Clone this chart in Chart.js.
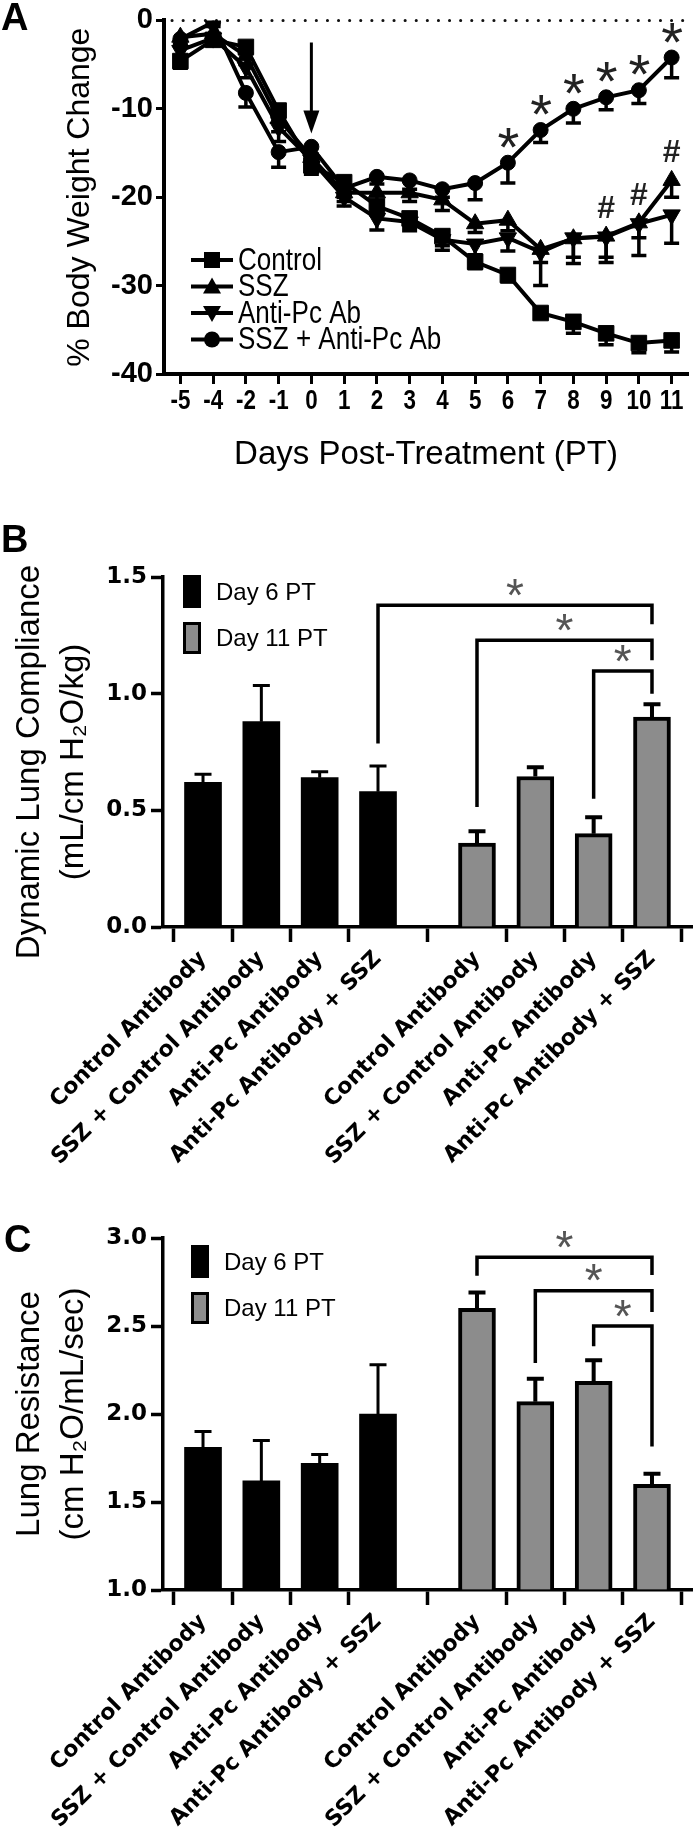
<!DOCTYPE html>
<html>
<head>
<meta charset="utf-8">
<script src="https://cdn.jsdelivr.net/npm/chart.js@4.4.0/dist/chart.umd.min.js"></script>
<style>
  body { margin: 0; background: #fff; }
  #wrap { position: relative; width: 700px; height: 1837px; overflow: hidden; background: #fff; }
  canvas { position: absolute; left: 0; }
</style>
</head>
<body>
<div id="wrap">
  <canvas id="cA" width="700" height="480" style="top:0px"></canvas>
  <canvas id="cB" width="700" height="700" style="top:470px"></canvas>
  <canvas id="cC" width="700" height="667" style="top:1170px"></canvas>
</div>
<script>
// ---- panel A: % body weight change ----
var days = ['-5','-4','-2','-1','0','1','2','3','4','5','6','7','8','9','10','11'];
var control    = [-4.6,-2.2,-3.0,-10.2,-16.4,-18.3,-21.0,-22.4,-24.4,-27.3,-28.8,-33.1,-34.1,-35.4,-36.5,-36.2];
var controlErr = [0.8,0.6,0.8,1.0,1.0,1.2,1.0,1.0,1.1,0.8,0.8,0.6,1.3,1.3,1.1,1.3];
var ssz        = [-1.9,-1.5,-4.0,-11.1,-15.5,-19.5,-19.5,-19.5,-20.3,-23.0,-22.6,-25.9,-24.7,-24.4,-22.9,-18.1];
var sszErr     = [0.8,0.6,1.0,1.5,1.0,1.0,1.0,1.0,1.2,1.0,1.2,1.5,2.8,3.0,3.7,1.9];
var antiPc     = [-3.4,-2.0,-5.3,-12.1,-15.8,-20.0,-22.4,-22.8,-24.8,-25.3,-24.6,-26.2,-24.6,-24.5,-23.0,-22.0];
var antiPcErr  = [0.8,0.6,1.2,1.6,1.0,1.0,1.3,1.0,1.2,1.2,1.5,3.8,2.2,2.3,1.6,3.2];
var combo      = [-2.1,-0.2,-8.2,-14.9,-14.3,-19.0,-17.7,-18.1,-19.1,-18.4,-16.1,-12.4,-10.0,-8.7,-7.9,-4.2];
var comboErr   = [0.8,0.5,1.6,1.7,0.8,1.0,0.8,1.0,0.9,1.9,2.3,1.4,1.6,1.4,1.5,2.3];
var starDays = ['6','7','8','9','10','11'];   // * vs combo
var hashDays = ['9','10','11'];               // # vs SSZ
var arrowDay = '0';
var arrowFrom = -2.5, arrowTo = -12.8;

// ---- panels B and C ----
var barLabels = ['Control Antibody','SSZ + Control Antibody','Anti-Pc Antibody','Anti-Pc Antibody + SSZ'];
var complianceDay6     = [0.62, 0.88, 0.64, 0.58];
var complianceDay6Err  = [0.035, 0.155, 0.025, 0.11];
var complianceDay11    = [0.36, 0.645, 0.40, 0.90];
var complianceDay11Err = [0.05, 0.04, 0.07, 0.055];
// [from bar, to bar, bracket top, left leg end, right leg end]
var complianceSig = [[3,7,1.379,0.786,1.297],[4,7,1.229,0.514,1.143],[6,7,1.097,0.55,1.0]];

var resistanceDay6     = [1.81, 1.62, 1.72, 2.00];
var resistanceDay6Err  = [0.09, 0.23, 0.05, 0.28];
var resistanceDay11    = [2.60, 2.07, 2.185, 1.60];
var resistanceDay11Err = [0.09, 0.13, 0.12, 0.06];
var resistanceSig = [[4,7,2.89,2.785,2.79],[5,7,2.70,2.29,2.58],[6,7,2.5,2.385,1.815]];

var ink = '#000';
var FONT = '"Liberation Sans", Arial, Helvetica, sans-serif';
var WIDE = '"DejaVu Sans", Verdana, sans-serif';

function centerText(ctx, txt, x, y) {
  ctx.textAlign = 'left';
  ctx.textBaseline = 'alphabetic';
  var m = ctx.measureText(txt);
  ctx.fillText(txt, x - (m.actualBoundingBoxRight - m.actualBoundingBoxLeft) / 2,
               y + (m.actualBoundingBoxAscent - m.actualBoundingBoxDescent) / 2);
}

function errDown(ctx, x, y0, y1, cap, lw) {
  ctx.lineWidth = lw;
  ctx.beginPath();
  ctx.moveTo(x, y0); ctx.lineTo(x, y1);
  ctx.moveTo(x - cap / 2, y1); ctx.lineTo(x + cap / 2, y1);
  ctx.stroke();
}

// ---------- A ----------
var errsA = [controlErr, sszErr, antiPcErr, comboErr];
var seriesA = [control, ssz, antiPc, combo];

var panelA = {
  id: 'panelA',
  beforeDatasetsDraw: function(chart) {
    var ctx = chart.ctx, y = chart.scales.y, area = chart.chartArea;
    ctx.save();
    // dotted zero line
    ctx.strokeStyle = '#111';
    ctx.lineWidth = 3;
    ctx.lineCap = 'round';
    ctx.setLineDash([0.1, 11]);
    ctx.beginPath();
    ctx.moveTo(area.left + 8, y.getPixelForValue(0));
    ctx.lineTo(area.right, y.getPixelForValue(0));
    ctx.stroke();
    ctx.setLineDash([]);
    ctx.lineCap = 'butt';
    ctx.strokeStyle = ink;
    for (var d = 0; d < 4; d++) {
      var meta = chart.getDatasetMeta(d);
      meta.data.forEach(function(pt, i) {
        errDown(ctx, pt.x, pt.y, y.getPixelForValue(seriesA[d][i] - errsA[d][i]), 15, 3.5);
      });
    }
    ctx.restore();
  },
  afterDraw: function(chart) {
    var ctx = chart.ctx, x = chart.scales.x, y = chart.scales.y, area = chart.chartArea;
    ctx.save();
    ctx.fillStyle = ink;
    // panel letter
    ctx.font = 'bold 38px ' + FONT;
    ctx.textAlign = 'left'; ctx.textBaseline = 'alphabetic';
    ctx.fillText('A', 1, 30);

    // day tick labels, bold and narrow
    ctx.font = 'bold 28px ' + FONT;
    ctx.textAlign = 'center'; ctx.textBaseline = 'top';
    days.forEach(function(dd, i) {
      ctx.save();
      ctx.translate(x.getPixelForTick(i), area.bottom + 13);
      ctx.scale(0.8, 1);
      ctx.fillText(dd, 0, 0);
      ctx.restore();
    });

    // arrow at treatment day
    var ax = x.getPixelForValue(days.indexOf(arrowDay));
    var ya = y.getPixelForValue(arrowFrom), yb = y.getPixelForValue(arrowTo);
    ctx.strokeStyle = ink; ctx.lineWidth = 3;
    ctx.beginPath(); ctx.moveTo(ax, ya); ctx.lineTo(ax, yb - 18); ctx.stroke();
    ctx.beginPath(); ctx.moveTo(ax - 8, yb - 23); ctx.lineTo(ax + 8, yb - 23); ctx.lineTo(ax, yb); ctx.closePath(); ctx.fill();

    // significance marks
    var comboMeta = chart.getDatasetMeta(3), sszMeta = chart.getDatasetMeta(1);
    ctx.fillStyle = '#222';
    ctx.font = '56px ' + FONT;
    starDays.forEach(function(dd) {
      var p = comboMeta.data[days.indexOf(dd)];
      centerText(ctx, '*', p.x, p.y - 25);
    });
    ctx.font = 'bold 32px ' + FONT;
    hashDays.forEach(function(dd) {
      var p = sszMeta.data[days.indexOf(dd)];
      centerText(ctx, '#', p.x, p.y - 29);
    });

    // legend
    ctx.fillStyle = ink;
    var names = chart.data.datasets.map(function(ds) { return ds.label; });
    var styles = ['rect', 'triangle', 'triangleDown', 'circle'];
    names.forEach(function(n, i) {
      var cy = 260 + i * 26.5;
      ctx.lineWidth = 4; ctx.strokeStyle = ink;
      ctx.beginPath(); ctx.moveTo(191, cy); ctx.lineTo(233, cy); ctx.stroke();
      var s = styles[i];
      ctx.beginPath();
      if (s === 'rect') ctx.rect(204, cy - 8, 16, 16);
      else if (s === 'triangle') { ctx.moveTo(212, cy - 9); ctx.lineTo(221, cy + 7); ctx.lineTo(203, cy + 7); }
      else if (s === 'triangleDown') { ctx.moveTo(212, cy + 9); ctx.lineTo(221, cy - 7); ctx.lineTo(203, cy - 7); }
      else ctx.arc(212, cy, 8, 0, Math.PI * 2);
      ctx.fill();
      ctx.save();
      ctx.translate(238, cy);
      ctx.scale(0.84, 1);
      ctx.font = '31px ' + FONT;
      ctx.textAlign = 'left'; ctx.textBaseline = 'middle';
      ctx.fillText(n, 0, 1);
      ctx.restore();
    });

    // axis titles
    ctx.font = '33px ' + FONT;
    ctx.textAlign = 'center'; ctx.textBaseline = 'middle';
    ctx.fillText('Days Post-Treatment (PT)', (area.left + area.right) / 2, 455);
    ctx.save();
    ctx.translate(80, (area.top + area.bottom) / 2);
    ctx.rotate(-Math.PI / 2);
    ctx.font = '32px ' + FONT;
    ctx.fillText('% Body Weight Change', 0, 0);
    ctx.restore();
    ctx.restore();
  }
};

function lineSet(label, data, style, rot, r) {
  return {
    label: label, data: data,
    borderColor: ink, backgroundColor: ink, borderWidth: 4,
    pointStyle: style, pointRotation: rot, pointRadius: r,
    pointBackgroundColor: ink, pointBorderColor: ink, pointBorderWidth: 1,
    tension: 0
  };
}

new Chart(document.getElementById('cA'), {
  type: 'line',
  data: {
    labels: days,
    datasets: [
      lineSet('Control', control, 'rect', 0, 11),
      lineSet('SSZ', ssz, 'triangle', 0, 10),
      lineSet('Anti-Pc Ab', antiPc, 'triangle', 180, 10),
      lineSet('SSZ + Anti-Pc Ab', combo, 'circle', 0, 7.5)
    ]
  },
  options: {
    responsive: false, animation: false, devicePixelRatio: 1,
    layout: { padding: { top: 20, right: 3, bottom: 0, left: 0 } },
    plugins: { legend: { display: false }, tooltip: { enabled: false } },
    scales: {
      x: {
        offset: true,
        grid: { drawOnChartArea: false, drawTicks: true, tickLength: 10, tickWidth: 3, tickColor: ink },
        border: { display: true, color: ink, width: 4 },
        ticks: { display: false, autoSkip: false, maxRotation: 0 },
        afterFit: function(s) { s.height = 106; }
      },
      y: {
        min: -40, max: 0,
        grid: { drawOnChartArea: false, drawTicks: true, tickLength: 8, tickWidth: 3, tickColor: ink },
        border: { display: true, color: ink, width: 4 },
        ticks: { stepSize: 10, color: ink, font: { family: FONT, size: 29, weight: 'bold' }, padding: 3 },
        afterFit: function(s) { s.width = 164; }
      }
    }
  },
  plugins: [panelA]
});

// ---------- B and C ----------
var groupStep = 4.697;
function slot(k) { return k < 4 ? k : groupStep + (k - 4); }

function barPanel(canvasId, o) {
  var allErr = o.err6.concat(o.err11);
  var allVal = o.day6.concat(o.day11);
  var plug = {
    id: 'bars' + canvasId,
    afterDatasetsDraw: function(chart) {
      var ctx = chart.ctx, y = chart.scales.y, x = chart.scales.x;
      ctx.save();
      ctx.strokeStyle = ink;
      // error bars
      [0, 1].forEach(function(d) {
        chart.getDatasetMeta(d).data.forEach(function(bar, i) {
          var k = d * 4 + i;
          var top = y.getPixelForValue(allVal[k]);
          errDown(ctx, bar.x, top, y.getPixelForValue(allVal[k] + allErr[k]), 17, d === 0 ? 3 : 4);
        });
      });
      // significance brackets
      ctx.lineWidth = 3.5;
      o.sig.forEach(function(s) {
        var x1 = x.getPixelForValue(slot(s[0])), x2 = x.getPixelForValue(slot(s[1]));
        var yt = y.getPixelForValue(s[2]);
        ctx.beginPath();
        ctx.moveTo(x1, y.getPixelForValue(s[3]));
        ctx.lineTo(x1, yt); ctx.lineTo(x2, yt);
        ctx.lineTo(x2, y.getPixelForValue(s[4]));
        ctx.stroke();
        ctx.fillStyle = '#555';
        ctx.font = '46px ' + FONT;
        centerText(ctx, '*', (x1 + x2) / 2, yt - 18);
      });
      ctx.restore();
    },
    afterDraw: function(chart) {
      var ctx = chart.ctx, area = chart.chartArea;
      ctx.save();
      ctx.fillStyle = ink;
      ctx.font = 'bold 38px ' + FONT;
      ctx.textAlign = 'left'; ctx.textBaseline = 'alphabetic';
      ctx.fillText(o.letter, o.letterX, o.letterY);
      // legend
      var lx = area.left + o.legX, ly = area.top + o.legY;
      ctx.fillRect(lx, ly, 18, 33);
      ctx.fillStyle = '#8c8c8c';
      ctx.fillRect(lx, ly + 47, 18, 32);
      ctx.strokeStyle = ink; ctx.lineWidth = 3;
      ctx.strokeRect(lx + 1.5, ly + 48.5, 15, 29);
      ctx.fillStyle = ink;
      ctx.font = '24px ' + FONT;
      ctx.textBaseline = 'middle';
      ctx.fillText(chart.data.datasets[0].label, lx + 33, ly + 18);
      ctx.fillText(chart.data.datasets[1].label, lx + 33, ly + 64);
      // y title, two lines
      ctx.font = '33px ' + FONT;
      ctx.textAlign = 'center';
      var cy = (area.top + area.bottom) / 2 + o.titleShift;
      [[30, o.title[0]], [74, o.title[1]]].forEach(function(t) {
        ctx.save();
        ctx.translate(t[0], cy);
        ctx.rotate(-Math.PI / 2);
        ctx.fillText(t[1], 0, 0);
        ctx.restore();
      });
      ctx.restore();
    }
  };

  var positions = [0, 1, 2, 3, 4, 5, 6, 7].map(slot);
  var labels8 = barLabels.concat(barLabels);
  return new Chart(document.getElementById(canvasId), {
    type: 'bar',
    data: {
      datasets: [
        { label: 'Day 6 PT', data: o.day6.map(function(v, i) { return { x: slot(i), y: v }; }),
          backgroundColor: ink, borderColor: ink, borderWidth: 0, barThickness: 37, grouped: false, base: o.min, clip: 0 },
        { label: 'Day 11 PT', data: o.day11.map(function(v, i) { return { x: slot(i + 4), y: v }; }),
          backgroundColor: '#8c8c8c', borderColor: ink, borderWidth: 4, barThickness: 37, grouped: false, base: o.min, clip: 0 }
      ]
    },
    options: {
      responsive: false, animation: false, devicePixelRatio: 1,
      layout: { padding: { top: o.top, right: 8, bottom: 0, left: 0 } },
      plugins: { legend: { display: false }, tooltip: { enabled: false } },
      scales: {
        x: {
          type: 'linear', min: -0.686, max: 8.383, offset: false,
          afterBuildTicks: function(s) { s.ticks = positions.map(function(v) { return { value: v }; }); },
          grid: { drawOnChartArea: false, drawTicks: true, tickLength: 15, tickWidth: 3.5, tickColor: ink },
          border: { display: true, color: ink, width: 3.5 },
          ticks: {
            callback: function(v, i) { return labels8[i]; },
            minRotation: 45, maxRotation: 45, autoSkip: false, padding: 4,
            color: ink, font: { family: WIDE, size: 22, weight: 'bold' }
          },
          afterFit: function(s) { s.height = o.xh; }
        },
        y: {
          min: o.min, max: o.max,
          grid: { drawOnChartArea: false, drawTicks: true, tickLength: 12, tickWidth: 3.5, tickColor: ink },
          border: { display: true, color: ink, width: 3.5 },
          ticks: { stepSize: 0.5, color: ink, padding: 4, font: { family: WIDE, size: 23, weight: 'bold' },
                   callback: function(v) { return v.toFixed(1); } },
          afterFit: function(s) { s.width = 163; }
        }
      }
    },
    plugins: [plug]
  });
}

barPanel('cB', {
  day6: complianceDay6, err6: complianceDay6Err, day11: complianceDay11, err11: complianceDay11Err,
  sig: complianceSig, min: 0, max: 1.5, top: 107, xh: 243,
  letter: 'B', letterX: 1, letterY: 82, legX: 20, legY: -2, titleShift: 10,
  title: ['Dynamic Lung Compliance', '(mL/cm H\u2082O/kg)']
});

barPanel('cC', {
  day6: resistanceDay6, err6: resistanceDay6Err, day11: resistanceDay11, err11: resistanceDay11Err,
  sig: resistanceSig, min: 1, max: 3, top: 68, xh: 247,
  letter: 'C', letterX: 4, letterY: 82, legX: 28, legY: 7, titleShift: 0,
  title: ['Lung Resistance', '(cm H\u2082O/mL/sec)']
});
</script>
</body>
</html>
